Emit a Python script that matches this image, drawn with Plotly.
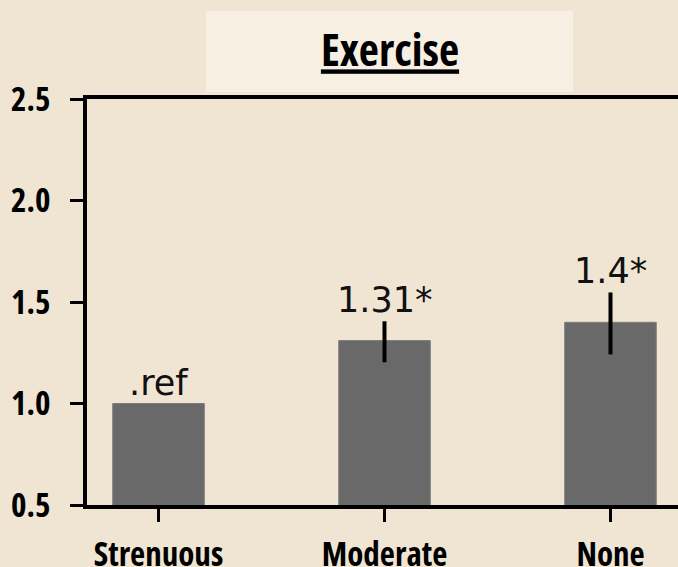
import plotly.graph_objects as go

categories = ["Strenuous", "Moderate", "None"]
values = [1.0, 1.31, 1.40]
err_plus = [0.0, 0.095, 0.147]
err_minus = [0.0, 0.107, 0.158]
bar_labels = [".ref", "1.31*", "1.4*"]
y_ticks = [0.5, 1.0, 1.5, 2.0, 2.5]
y_tick_text = ["0.5", "1.0", "1.5", "2.0", "2.5"]
title_text = "Exercise"

BG = "#f0e5d3"
BOX = "#f7efe2"
BAR = "#696969"
COND = "Open Sans"

W, H = 678, 567
ML, MT, MB, MR = 87, 99, 62, 0

fig = go.Figure()
fig.add_trace(go.Bar(
    x=list(range(len(categories))),
    y=values,
    width=0.405,
    marker=dict(color=BAR, line=dict(color="#7c7c7c", width=1)),
    error_y=dict(type="data", symmetric=False, array=err_plus, arrayminus=err_minus,
                 color="#000000", thickness=4, width=0),
    hoverinfo="skip",
))

for i, (v, e, lab) in enumerate(zip(values, err_plus, bar_labels)):
    fig.add_annotation(
        x=i, y=v + e, xref="x", yref="y", text=lab, showarrow=False,
        yanchor="bottom", xanchor="center", yshift=-1,
        font=dict(family="DejaVu Sans", size=35, color="#111111"),
    )

plot_w = W - ML - MR
plot_h = H - MT - MB
cat_px = 226.0
r0 = (ML - 158.5) / cat_px
r1 = r0 + plot_w / cat_px

# title box
fig.add_shape(type="rect", xref="paper", yref="paper",
              x0=(206 - ML) / plot_w, x1=(573 - ML) / plot_w,
              y0=(H - MB - 92) / plot_h, y1=(H - MB - 11) / plot_h,
              fillcolor=BOX, line=dict(width=0), layer="below")

fig.update_layout(
    width=W, height=H,
    margin=dict(l=ML, r=MR, t=MT, b=MB, pad=0, autoexpand=False),
    paper_bgcolor=BG, plot_bgcolor=BG,
    showlegend=False,
    title=dict(text=f"<u>{title_text}</u>", x=390 / W, xanchor="center",
               xref="container", yref="container", y=1 - 51 / H, yanchor="middle",
               font=dict(family=COND, size=44, color="#000000", weight=700),
               automargin=False),
    xaxis=dict(
        range=[r0, r1], tickmode="array", tickvals=list(range(len(categories))),
        ticktext=categories, automargin=False,
        showline=True, linecolor="#000000", linewidth=4, mirror=True,
        ticks="outside", ticklen=13, tickwidth=3, tickcolor="#000000",
        showgrid=False, zeroline=False,
        tickfont=dict(family=COND, size=33, color="#000000", weight=700),
        ticklabelstandoff=4,
    ),
    yaxis=dict(
        range=[0.5, 2.5], tickmode="array", tickvals=y_ticks,
        ticktext=y_tick_text, automargin=False,
        showline=True, linecolor="#000000", linewidth=4, mirror=False,
        ticks="outside", ticklen=13, tickwidth=3, tickcolor="#000000",
        showgrid=False, zeroline=False,
        tickfont=dict(family=COND, size=33, color="#000000", weight=700),
        ticklabelstandoff=13,
    ),
)

js = (
    "document.body.style.margin='0';"
    "var s=document.createElement('style');"
    "s.textContent='.xtick text,.ytick text,.gtitle,.gtitle tspan{font-stretch:75% !important;}';"
    "document.head.appendChild(s);"
)
fig.write_html("out.html", post_script=js, config={"displayModeBar": False})
